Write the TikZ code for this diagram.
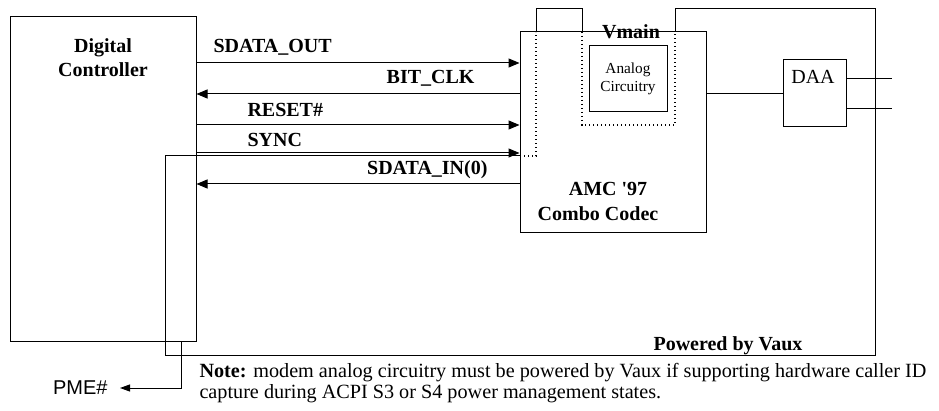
\documentclass[tikz,border=0pt]{standalone}
\usepackage{fontspec}
\setmainfont{Liberation Serif}
\newfontfamily\arialfont{Liberation Sans}
\usetikzlibrary{arrows.meta}
\begin{document}
\begin{tikzpicture}[x=1pt,y=-1pt,line width=1pt,
  box/.style={draw,rectangle,inner sep=0pt},
  lbl/.style={font=\fontsize{20}{24}\selectfont\bfseries,inner sep=0pt},
  txt/.style={font=\fontsize{20}{24}\selectfont,inner sep=0pt},
  sig/.style={-{Triangle[length=11pt,width=9pt]}},
  dotl/.style={line width=1.5pt,dash pattern=on 1.4pt off 2.6pt}]
\useasboundingbox (0,0) rectangle (939,411);
% boxes
\node[box,minimum width=186pt,minimum height=324pt] (ctrl) at (103,179) {};
\node[box,minimum width=186pt,minimum height=201pt] (codec) at (613,132.5) {};
\node[box,minimum width=78pt,minimum height=66pt] (analog) at (628,79) {};
\node[box,minimum width=63pt,minimum height=67pt] (daa) at (814.5,93.5) {};
% box texts
\node[lbl,align=center] (ctrltxt) at (103,58) {Digital\\Controller};
\node[lbl] (amc) at (608,189) {AMC \textquotesingle97};
\node[lbl] (combo) at (598,214) {Combo Codec};
\node[font=\fontsize{15.3}{18}\selectfont,inner sep=0pt,align=center] (antxt) at (628,79) {Analog\\Circuitry};
\node[txt] (daatxt) at (813,77) {DAA};
% Vaux power domain outline
\coordinate (v1) at (165,156);
\coordinate (v2) at (520,156);
\coordinate (v3) at (536,156);
\coordinate (v4) at (536,32);
\coordinate (v5) at (536,9);
\coordinate (v6) at (582,9);
\coordinate (v7) at (582,32);
\coordinate (v8) at (582,125);
\coordinate (v9) at (675,125);
\coordinate (v10) at (675,32);
\coordinate (v11) at (675,9);
\coordinate (v12) at (875,9);
\coordinate (v13) at (875,355);
\coordinate (v14) at (165,355);
\draw (v1) -- (v2);
\draw[dotl] (v2) -- (v3) -- (v4);
\draw (v4) -- (v5) -- (v6) -- (v7);
\draw[dotl] (v7) -- (v8) -- (v9) -- (v10);
\draw (v10) -- (v11) -- (v12) -- (v13) -- (v14) -- (v1);
\node[lbl] (vmain) at (631,32) {Vmain};
\node[lbl] (vaux) at (728,346) {Powered by Vaux};
% signal lines
\coordinate (y1) at (0,63);
\coordinate (y2) at (0,94);
\coordinate (y3) at (0,125);
\coordinate (y4) at (0,153);
\coordinate (y5) at (0,184);
\draw[sig] (ctrl.east |- y1) -- (codec.west |- y1);
\draw[sig] (codec.west |- y2) -- (ctrl.east |- y2);
\draw[sig] (ctrl.east |- y3) -- (codec.west |- y3);
\draw[sig] (ctrl.east |- y4) -- (codec.west |- y4);
\draw[sig] (codec.west |- y5) -- (ctrl.east |- y5);
\node[lbl,anchor=west] (l1) at (213,47) {SDATA\_OUT};
\node[lbl,anchor=east] (l2) at (475,78) {BIT\_CLK};
\node[lbl,anchor=west] (l3) at (247,110) {RESET\#};
\node[lbl,anchor=west] (l4) at (247,140) {SYNC};
\node[lbl,anchor=east] (l5) at (488,170) {SDATA\_IN(0)};
% codec to DAA, DAA lines
\coordinate (y6) at (0,79);
\coordinate (y7) at (0,109);
\coordinate (e1) at (892,79);
\coordinate (e2) at (892,109);
\draw (codec.east |- daa.west) -- (daa.west);
\draw (daa.east |- y6) -- (e1);
\draw (daa.east |- y7) -- (e2);
% PME#
\node[font=\arialfont\fontsize{20}{24}\selectfont,inner sep=0pt,anchor=east] (pme) at (108,388) {PME\#};
\coordinate (px) at (181,0);
\coordinate (pc) at (181,388);
\draw[-{Triangle[length=10pt,width=7pt]}] (ctrl.south -| px) -- (pc) -- ([xshift=12pt]pme.east);
% note
\node[font=\fontsize{20.2}{21}\selectfont,inner sep=0pt,anchor=north west,align=left] (note) at (199,363)
  {\textbf{Note:} modem analog circuitry must be powered by Vaux if supporting hardware caller ID\\capture during ACPI S3 or S4 power management states.};
\end{tikzpicture}
\end{document}
